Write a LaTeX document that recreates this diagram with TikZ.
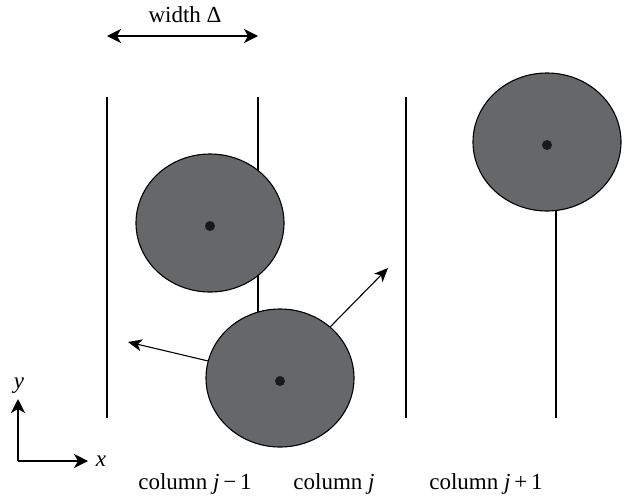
\documentclass[tikz,border=0pt]{standalone}
\usepackage{fontspec}
\setmainfont{Liberation Serif}
\usetikzlibrary{arrows.meta,shapes.geometric}
\definecolor{ballgray}{HTML}{666769}
\begin{document}
\begin{tikzpicture}[x=1pt,y=-1pt,
  wall/.style={line width=1.2pt,black},
  ball/.style={ellipse,draw=black,line width=1.1pt,fill=ballgray,
    minimum width=148pt,minimum height=138pt,inner sep=0pt},
  centre/.style={circle,fill=black!90,minimum size=10pt,inner sep=0pt},
  head/.tip={Stealth[length=14pt,width=14pt,inset=4pt]},
  tip/.style={-head,line width=1.2pt},
  velo/.style={-{Stealth[length=14pt,width=12pt,inset=4pt]},line width=1.1pt},
  lbl/.style={font=\fontsize{23}{26}\selectfont,inner sep=0pt,anchor=base}]
\useasboundingbox (0,0) rectangle (628,501);

% column boundaries
\coordinate (w1t) at (107,97);  \coordinate (w1b) at (107,418);
\coordinate (w2t) at (258,97);  \coordinate (w2b) at (258,312);
\coordinate (w3t) at (406,97);  \coordinate (w3b) at (406,418);
\coordinate (w4t) at (556,200); \coordinate (w4b) at (556,418);
\draw[wall] (w1t) -- (w1b);
\draw[wall] (w2t) -- (w2b);
\draw[wall] (w3t) -- (w3b);
\draw[wall] (w4t) -- (w4b);

% balls
\node[ball] (b1) at (210,223) {};
\node[ball] (b3) at (547,142) {};
\node[ball] (b2) at (280,378) {};
\node[centre] (c1) at (210,226) {};
\node[centre] (c2) at (280,381) {};
\node[centre] (c3) at (547,145) {};

% velocities of the lower ball
\coordinate (vl) at (128,342);
\coordinate (vr) at (388,268);
\draw[velo] (b2) -- (vl);
\draw[velo] (b2) -- (vr);

% column width
\coordinate (dl) at (107,36);
\coordinate (dr) at (258,36);
\draw[head-head,line width=1.2pt] (dl) -- (dr);
\node[lbl] (wl) at (185,22) {width Δ};

% axes
\coordinate (o) at (18,461);
\coordinate (ya) at (18,399);
\coordinate (xa) at (88,461);
\draw[tip] (o) -- (ya);
\draw[tip] (o) -- (xa);
\node[lbl] (yl) at (19,388) {\textit{y}};
\node[lbl] (xl) at (101,466) {\textit{x}};

% column labels
\node[lbl] (cA) at (195,489) {column \textit{j}\,−\,1};
\node[lbl] (cB) at (334,489) {column \textit{j}};
\node[lbl] (cC) at (486,489) {column \textit{j}\,+\,1};
\end{tikzpicture}
\end{document}
